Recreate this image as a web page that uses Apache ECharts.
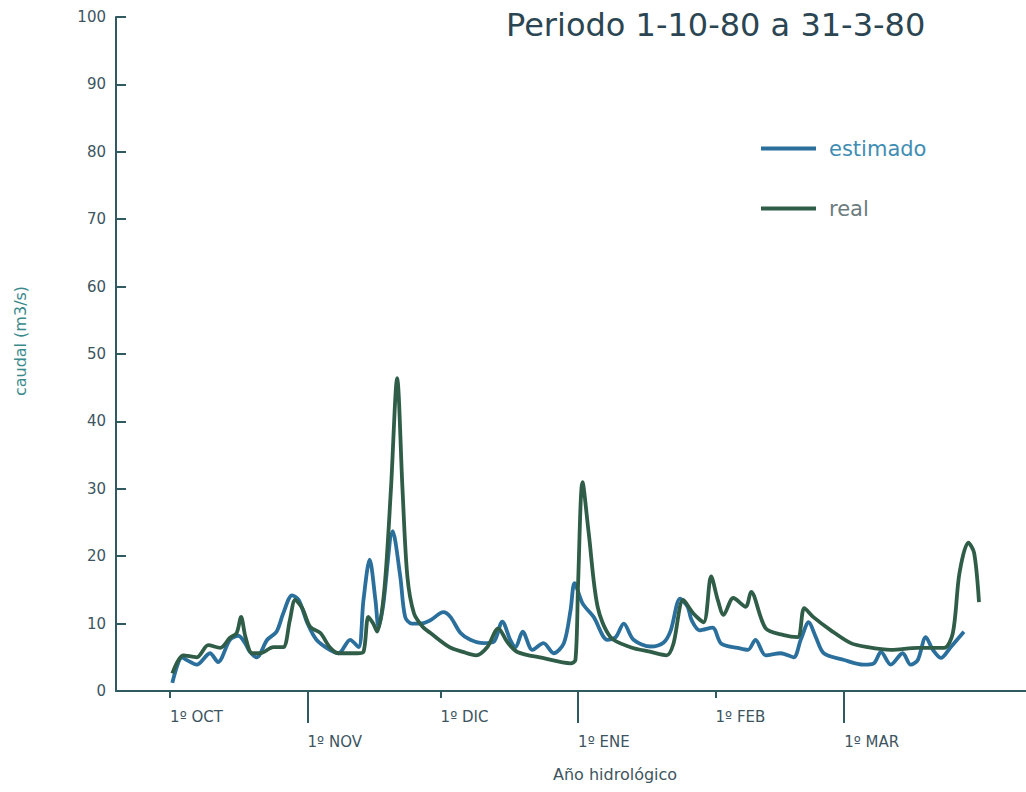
<!DOCTYPE html>
<html>
<head>
<meta charset="utf-8">
<script src="https://cdn.jsdelivr.net/npm/echarts@6/dist/echarts.min.js"></script>
<style>
  html, body { margin: 0; padding: 0; background: #fff; }
  #chart { width: 1026px; height: 792px; }
</style>
</head>
<body>
<div id="chart"></div>
<script>
// días desde el 1 de octubre
const monthDays = [0, 31, 61, 92, 123, 152];
const monthNames = ["1º OCT", "1º NOV", "1º DIC", "1º ENE", "1º FEB", "1º MAR"];
const yTicks = [0, 10, 20, 30, 40, 50, 60, 70, 80, 90, 100];

const estDays = [0.5, 2.7, 4, 6, 9, 10.8, 13.5, 15.4, 17, 18, 19.5, 21.9, 24, 25.5, 27.5, 29, 31, 33, 36, 38, 40.6, 42.5, 43.6, 45, 46.3, 47, 48, 50.2, 51.9, 53, 54.5, 56.4, 58.7, 61.6, 63.2, 65.5, 67.7, 70.7, 73, 74.9, 76.7, 77.9, 79.5, 81.7, 84.2, 86.5, 88.8, 90.3, 91.2, 93, 95.5, 98.6, 100.5, 102.3, 104.5, 108.4, 111.3, 112.9, 115, 116.7, 117.6, 119.4, 122.3, 124.3, 128, 130.3, 132, 134.3, 137.7, 140.6, 142.2, 144, 145.6, 147.4, 152, 156.4, 158.7, 160.3, 162.5, 165.2, 167, 168.6, 170.4, 172, 173.8, 176, 179];
const estValues = [1.2, 5.0, 4.5, 3.9, 5.6, 4.3, 7.6, 8.2, 7, 5.8, 5.0, 7.6, 8.8, 11.5, 14.2, 13.5, 10, 7.6, 6.1, 5.6, 7.6, 6.5, 13.5, 19.5, 13.5, 9.5, 12.5, 23.7, 17, 11, 10, 10, 10.5, 11.7, 11, 8.6, 7.6, 7.1, 7.3, 10.3, 7.6, 6.5, 8.8, 6.1, 7.1, 5.6, 7.1, 12, 16, 13, 11, 7.6, 8, 10, 7.6, 6.6, 7.2, 9, 13.7, 12.5, 10.5, 9, 9.4, 7, 6.4, 6.1, 7.6, 5.3, 5.6, 5.0, 7.6, 10.2, 8, 5.6, 4.6, 3.9, 4.1, 5.8, 3.9, 5.6, 3.9, 4.6, 8, 6.1, 4.9, 6.5, 8.8];

const realDays = [0.5, 3, 6, 8.6, 11.3, 13.5, 15, 16, 17, 18.5, 20.3, 23.3, 25.5, 27, 28.2, 29.8, 31.6, 33.9, 36, 38, 42.2, 43.6, 44.7, 45.8, 46.7, 48.3, 49.8, 51.2, 52.4, 53.5, 55, 57, 58.7, 63, 66, 69, 71.5, 74, 76, 78.3, 84, 90.3, 91.4, 92, 93, 94.4, 96.4, 99.3, 103.8, 108.4, 112, 113.5, 115.7, 118, 120.3, 122, 123.5, 124.8, 127, 129.8, 131, 134.3, 138.4, 141.5, 143, 145, 149, 153.5, 157.3, 162.5, 168.6, 174.5, 176.5, 178, 180, 181.3, 182.4];
const realValues = [2.6, 5.3, 5, 6.8, 6.4, 7.9, 8.6, 11, 8, 5.6, 5.6, 6.5, 6.5, 10.5, 13.5, 12.3, 9.5, 8.6, 6.5, 5.6, 5.6, 5.8, 11, 10, 8.8, 15, 30, 46.4, 30, 17, 11.5, 9.5, 8.6, 6.5, 5.8, 5.3, 6.5, 9.3, 7.3, 5.8, 4.9, 4.1, 4.6, 16, 31, 23.4, 12.5, 8, 6.5, 5.8, 5.3, 7, 13.5, 11.5, 10.2, 17, 13.5, 11.3, 13.8, 12.5, 14.7, 9.3, 8.3, 8, 12.3, 11, 9, 7.1, 6.5, 6.1, 6.4, 6.4, 8.6, 17.5, 22, 20.5, 13.2];

const FONT = "DejaVu Sans";
const axisColor = "#2f5a60";
const labelColor = "#3d5560";

let chart = echarts.init(document.getElementById("chart"), null, { renderer: "svg" });

// etiquetas alternas: fila de arriba (OCT, DIC, FEB) y fila de abajo (NOV, ENE, MAR)
const upperTicks = monthDays.filter((d, i) => i % 2 === 0);
const lowerTicks = monthDays.filter((d, i) => i % 2 === 1);
const monthLabel = (v) => monthNames[monthDays.indexOf(v)] || "";

const xCommon = {
    type: "value",
    min: -12.2,
    max: 193,
    splitLine: { show: false },
    axisPointer: { show: false },
};

let option = {
    animation: false,
    textStyle: { fontFamily: FONT },
    title: {
        text: "Periodo 1-10-80 a 31-3-80",
        left: 501,
        top: 4,
        textStyle: { fontFamily: FONT, fontSize: 32, fontWeight: "normal", color: "#2b4652" },
    },
    legend: {
        orient: "vertical",
        left: 756,
        top: 133,
        itemWidth: 55,
        itemHeight: 4,
        itemGap: 39,
        icon: "rect",
        data: [
            { name: "estimado", textStyle: { color: "#3f8db3" } },
            { name: "real", textStyle: { color: "#6c7c7e" } },
        ],
        textStyle: { fontFamily: FONT, fontSize: 21, padding: [0, 0, 0, 8] },
    },
    grid: { left: 116, right: 0, top: 17, bottom: 101, containLabel: false },
    xAxis: [
        Object.assign({}, xCommon, {
            position: "bottom",
            axisLine: { onZero: false, lineStyle: { color: axisColor, width: 2 } },
            axisTick: { customValues: upperTicks, length: 7, lineStyle: { color: axisColor, width: 2 } },
            axisLabel: {
                customValues: upperTicks, formatter: monthLabel, align: "left",
                margin: 18, fontSize: 15, color: labelColor, fontFamily: FONT,
            },
        }),
        Object.assign({}, xCommon, {
            position: "bottom",
            axisLine: { show: false, onZero: false },
            axisTick: { customValues: lowerTicks, length: 32, lineStyle: { color: axisColor, width: 2 } },
            axisLabel: {
                customValues: lowerTicks, formatter: monthLabel, align: "left",
                margin: 43, fontSize: 15, color: labelColor, fontFamily: FONT,
            },
        }),
    ],
    yAxis: {
        type: "value",
        min: 0,
        max: 100,
        interval: 10,
        axisLine: { show: true, onZero: false, lineStyle: { color: axisColor, width: 2 } },
        axisTick: { show: true, inside: true, length: 10, lineStyle: { color: axisColor, width: 2 } },
        axisLabel: {
            margin: 10, fontSize: 15, color: labelColor, fontFamily: FONT,
            formatter: (v) => (yTicks.indexOf(v) >= 0 ? String(v) : ""),
        },
        splitLine: { show: false },
    },
    graphic: [
        {
            type: "text",
            left: 553,
            top: 766,
            style: { text: "Año hidrológico", fontFamily: FONT, fontSize: 16, fill: labelColor },
        },
        {
            type: "text",
            x: 20,
            y: 341,
            rotation: Math.PI / 2,
            style: {
                text: "caudal (m3/s)", fontFamily: FONT, fontSize: 16, fill: "#3a8a8c",
                align: "center", verticalAlign: "middle",
            },
        },
    ],
    series: [
        {
            name: "estimado",
            type: "line",
            xAxisIndex: 0,
            data: estDays.map((d, i) => [d, estValues[i]]),
            smooth: 0.3,
            showSymbol: false,
            symbol: "none",
            color: "#2b6f9c",
            lineStyle: { width: 3.8, color: "#2b6f9c" },
            z: 2,
        },
        {
            name: "real",
            type: "line",
            xAxisIndex: 0,
            data: realDays.map((d, i) => [d, realValues[i]]),
            smooth: 0.3,
            showSymbol: false,
            symbol: "none",
            color: "#2f5d48",
            lineStyle: { width: 3.8, color: "#2f5d48" },
            z: 3,
        },
    ],
};

chart.setOption(option);
window.addEventListener("resize", function () {
    chart.resize();
});
</script>
</body>
</html>
